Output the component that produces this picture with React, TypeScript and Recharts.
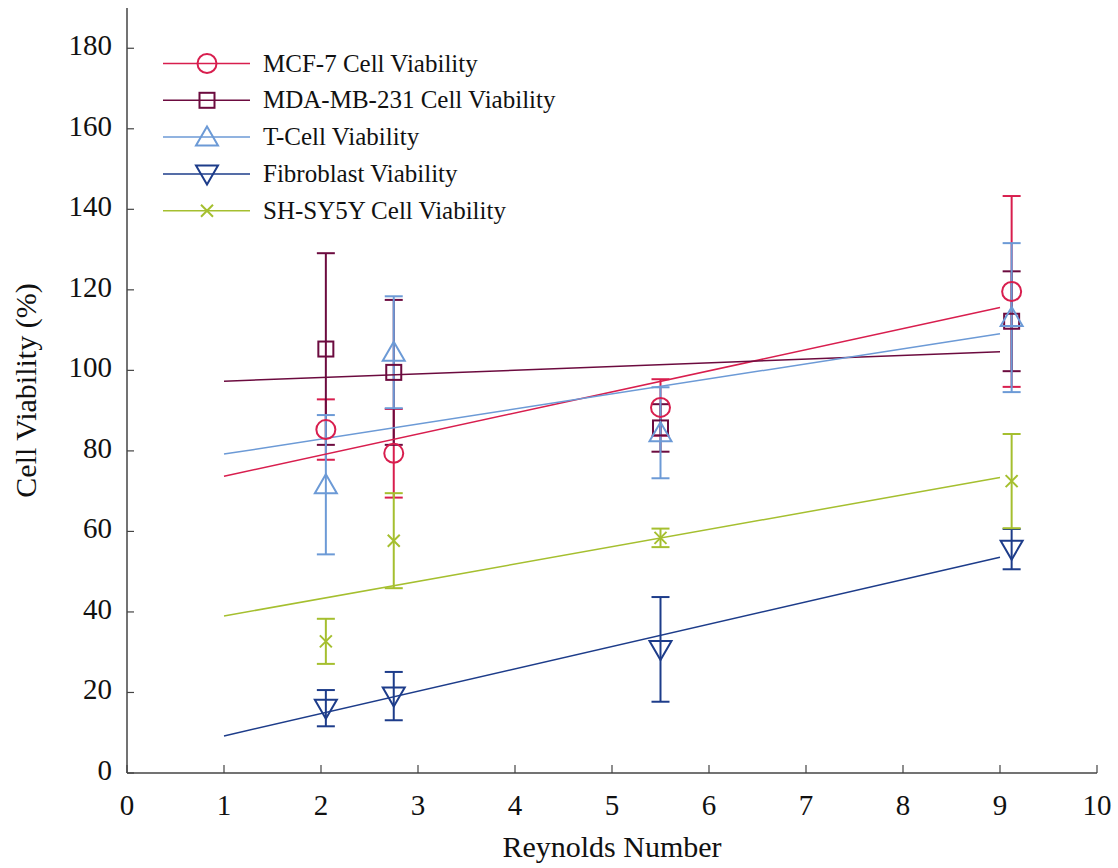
import React from 'react'
import { ScatterChart, Scatter, XAxis, YAxis, ErrorBar, Label } from 'recharts'

// Reynolds numbers of the four measurements
const reynolds = [2.05, 2.75, 5.5, 9.12]

const mcf7 = [85.3, 79.4, 90.8, 119.6]
const mcf7Err = [7.5, 11, 7, 23.7]
const mda = [105.3, 99.5, 85.7, 112.2]
const mdaErr = [23.8, 18, 5.9, 12.4]
const tcell = [71.6, 104.5, 84.5, 113.1]
const tcellErr = [17.3, 13.9, 11.3, 18.5]
const fibro = [16.1, 19.1, 30.7, 55.6]
const fibroErr = [4.5, 6, 13, 5]
const shsy = [32.7, 57.7, 58.4, 72.5]
const shsyErr = [5.6, 11.8, 2.3, 11.7]

// linear fit end points at x = 1 and x = 9
const trendX = [1, 9]
const mcf7Trend = [73.7, 115.6]
const mdaTrend = [97.3, 104.6]
const tcellTrend = [79.2, 109.1]
const fibroTrend = [9.2, 53.6]
const shsyTrend = [39.0, 73.4]

const xTicks = [0, 1, 2, 3, 4, 5, 6, 7, 8, 9, 10]
const yTicks = [0, 20, 40, 60, 80, 100, 120, 140, 160, 180]

type Kind = 'circle' | 'square' | 'triangle' | 'down' | 'cross'

const series: {
  name: string
  color: string
  kind: Kind
  values: number[]
  errors: number[]
  trend: number[]
}[] = [
  { name: 'MCF-7 Cell Viability', color: '#D81E4E', kind: 'circle', values: mcf7, errors: mcf7Err, trend: mcf7Trend },
  { name: 'MDA-MB-231 Cell Viability', color: '#6C0B3F', kind: 'square', values: mda, errors: mdaErr, trend: mdaTrend },
  { name: 'T-Cell Viability', color: '#6C9AD6', kind: 'triangle', values: tcell, errors: tcellErr, trend: tcellTrend },
  { name: 'Fibroblast Viability', color: '#1D3C8A', kind: 'down', values: fibro, errors: fibroErr, trend: fibroTrend },
  { name: 'SH-SY5Y Cell Viability', color: '#A5BF2F', kind: 'cross', values: shsy, errors: shsyErr, trend: shsyTrend },
]

const FONT = '"Liberation Serif", "DejaVu Serif", serif'
const AXIS = '#444'

function Marker({ kind, cx, cy, color }: { kind: Kind; cx: number; cy: number; color: string }) {
  const common = { fill: 'none', stroke: color, strokeWidth: 2 }
  switch (kind) {
    case 'circle':
      return <circle cx={cx} cy={cy} r={9.5} {...common} />
    case 'square':
      return <rect x={cx - 7.5} y={cy - 7.5} width={15} height={15} {...common} />
    case 'triangle':
      return <path d={`M${cx},${cy - 10.5}L${cx + 11},${cy + 8.5}L${cx - 11},${cy + 8.5}Z`} {...common} />
    case 'down':
      return <path d={`M${cx - 11},${cy - 8.5}L${cx + 11},${cy - 8.5}L${cx},${cy + 10.5}Z`} {...common} />
    default:
      return <path d={`M${cx - 6},${cy - 6}L${cx + 6},${cy + 6}M${cx + 6},${cy - 6}L${cx - 6},${cy + 6}`} {...common} />
  }
}

function YTick(props: any) {
  const { x, y, payload } = props
  return (
    <g>
      <line x1={x} y1={y} x2={x + 7} y2={y} stroke={AXIS} strokeWidth={1.2} />
      <text x={x - 15} y={y + 7} textAnchor="end" fontSize={29} fontFamily={FONT} fill="#111">
        {payload.value}
      </text>
    </g>
  )
}

function XTick(props: any) {
  const { x, y, payload } = props
  return (
    <g>
      <line x1={x} y1={y} x2={x} y2={y - 8} stroke={AXIS} strokeWidth={1.2} />
      <text x={x} y={y + 42} textAnchor="middle" fontSize={29} fontFamily={FONT} fill="#111">
        {payload.value}
      </text>
    </g>
  )
}

function LegendBox() {
  const rowY = [63.5, 100.3, 137.1, 173.9, 210.7]
  return (
    <svg width={560} height={240} style={{ position: 'absolute', left: 0, top: 0, overflow: 'visible' }}>
      {series.map((s, i) => (
        <g key={s.name}>
          <line x1={163} y1={rowY[i]} x2={250} y2={rowY[i]} stroke={s.color} strokeWidth={1.5} />
          <Marker kind={s.kind} cx={207} cy={rowY[i]} color={s.color} />
          <text x={263} y={rowY[i] + 8} fontSize={25} fontFamily={FONT} fill="#111">
            {s.name}
          </text>
        </g>
      ))}
    </svg>
  )
}

export default function App() {
  return (
    <div style={{ position: 'absolute', left: 0, top: 0, width: 1118, height: 868, background: '#fff' }}>
      <ScatterChart width={1118} height={868} margin={{ top: 8, right: 21, bottom: 0, left: 0 }}>
        <XAxis
          type="number"
          dataKey="x"
          domain={[0, 10]}
          ticks={xTicks}
          interval={0}
          height={95}
          tickSize={0}
          tickMargin={0}
          tickLine={false}
          tick={<XTick />}
          axisLine={{ stroke: AXIS, strokeWidth: 1.5 }}
        >
          <Label value="Reynolds Number" position="insideBottom" offset={11} style={{ fontSize: 30, fontFamily: FONT, fill: '#111' }} />
        </XAxis>
        <YAxis
          type="number"
          dataKey="y"
          domain={[0, 190]}
          ticks={yTicks}
          interval={0}
          width={127}
          tickSize={0}
          tickMargin={0}
          tickLine={false}
          tick={<YTick />}
          axisLine={{ stroke: AXIS, strokeWidth: 1.5 }}
        >
          <Label
            value="Cell Viability (%)"
            angle={-90}
            position="insideLeft"
            offset={25}
            style={{ fontSize: 30, fontFamily: FONT, fill: '#111', textAnchor: 'middle' }}
          />
        </YAxis>
        {series.map((s) => (
          <Scatter
            key={s.name + '-trend'}
            data={trendX.map((x, i) => ({ x, y: s.trend[i] }))}
            line={{ stroke: s.color, strokeWidth: 1.5 }}
            shape={() => <g />}
            isAnimationActive={false}
          />
        ))}
        {series.map((s) => (
          <Scatter
            key={s.name}
            name={s.name}
            data={reynolds.map((x, i) => ({ x, y: s.values[i], err: s.errors[i] }))}
            shape={(p: any) => <Marker kind={s.kind} cx={p.cx} cy={p.cy} color={s.color} />}
            isAnimationActive={false}
          >
            <ErrorBar dataKey="err" direction="y" width={9} stroke={s.color} strokeWidth={2} isAnimationActive={false} />
          </Scatter>
        ))}
      </ScatterChart>
      <LegendBox />
    </div>
  )
}
